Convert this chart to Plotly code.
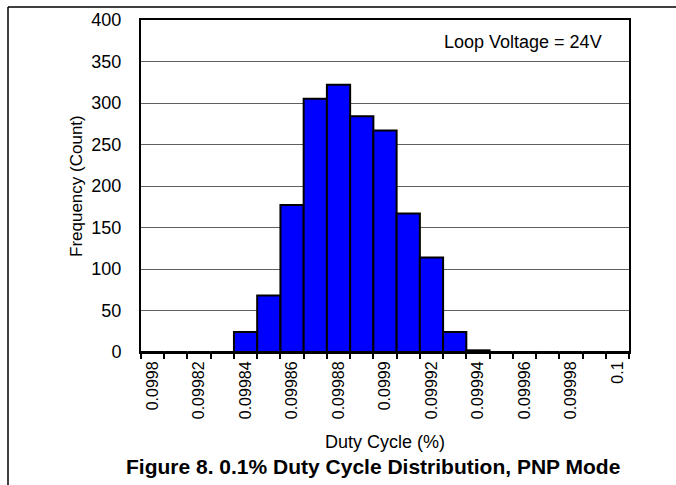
import plotly.graph_objects as go

# Data
categories = ["0.0998", "0.09981", "0.09982", "0.09983", "0.09984", "0.09985", "0.09986",
              "0.09987", "0.09988", "0.09989", "0.0999", "0.09991", "0.09992", "0.09993",
              "0.09994", "0.09995", "0.09996", "0.09997", "0.09998", "0.09999", "0.1"]
counts = [0, 0, 0, 0, 24, 68, 177, 305, 322, 284, 267, 167, 114, 24, 2, 0, 0, 0, 0, 0, 0]
tick_labels = ["0.0998", "0.09982", "0.09984", "0.09986", "0.09988", "0.0999",
               "0.09992", "0.09994", "0.09996", "0.09998", "0.1"]
y_ticks = [0, 50, 100, 150, 200, 250, 300, 350, 400]

idx = list(range(len(categories)))
tick_idx = [categories.index(t) for t in tick_labels]

W, H = 676, 485
ML, MR, MT, MB = 141, 47, 20, 133
PW, PH = W - ML - MR, H - MT - MB

def px(x):
    return (x - ML) / PW

def py(y):
    return (H - MB - y) / PH

FONT = "Liberation Sans, Arial, sans-serif"

fig = go.Figure()
fig.add_trace(go.Bar(
    x=idx, y=counts, width=1,
    marker=dict(color="#0000FF", line=dict(color="black", width=2)),
    hovertext=categories,
))

fig.update_layout(
    width=W, height=H,
    margin=dict(l=ML, r=MR, t=MT, b=MB, autoexpand=False),
    paper_bgcolor="white", plot_bgcolor="white",
    showlegend=False,
    font=dict(family=FONT, color="black"),
    xaxis=dict(
        range=[-0.5, len(categories) - 0.5], automargin=False,
        tickmode="array", tickvals=tick_idx, ticktext=tick_labels,
        tickangle=-90, ticks="", tickfont=dict(size=16), ticklabelstandoff=1,
        showline=True, linecolor="black", linewidth=2, mirror=True,
        showgrid=False, zeroline=False,
        minor=dict(tickmode="linear", tick0=-0.5, dtick=1, ticks="outside",
                   ticklen=5, tickwidth=2, tickcolor="black", showgrid=False),
    ),
    yaxis=dict(
        range=[0, 400], tickmode="array", tickvals=y_ticks, automargin=False,
        ticks="", ticklabelstandoff=14, tickfont=dict(size=18),
        showline=True, linecolor="black", linewidth=2, mirror=True,
        showgrid=True, gridcolor="#606060", gridwidth=1, zeroline=False,
    ),
    annotations=[
        dict(text="Frequency (Count)", xref="paper", yref="paper",
             x=px(76), y=py(186), xanchor="center", yanchor="middle", textangle=-90,
             showarrow=False, font=dict(size=17)),
        dict(text="Loop Voltage = 24V", xref="paper", yref="paper",
             x=px(604), y=py(42), xanchor="right", yanchor="middle",
             showarrow=False, font=dict(size=18)),
        dict(text="Duty Cycle (%)", xref="paper", yref="paper",
             x=px(385), y=py(442), xanchor="center", yanchor="middle",
             showarrow=False, font=dict(size=18)),
        dict(text="<b>Figure 8. 0.1% Duty Cycle Distribution, PNP Mode</b>",
             xref="paper", yref="paper",
             x=px(373), y=py(466), xanchor="center", yanchor="middle",
             showarrow=False, font=dict(size=21)),
    ],
    shapes=[
        dict(type="line", xref="paper", yref="paper",
             x0=px(8), y0=py(7), x1=px(676), y1=py(7),
             line=dict(color="black", width=1.5)),
        dict(type="line", xref="paper", yref="paper",
             x0=px(8), y0=py(7), x1=px(8), y1=py(485),
             line=dict(color="black", width=1.5)),
    ],
)

fig.write_html("out.html", config={"displayModeBar": False},
               post_script="document.body.style.margin='0';")
